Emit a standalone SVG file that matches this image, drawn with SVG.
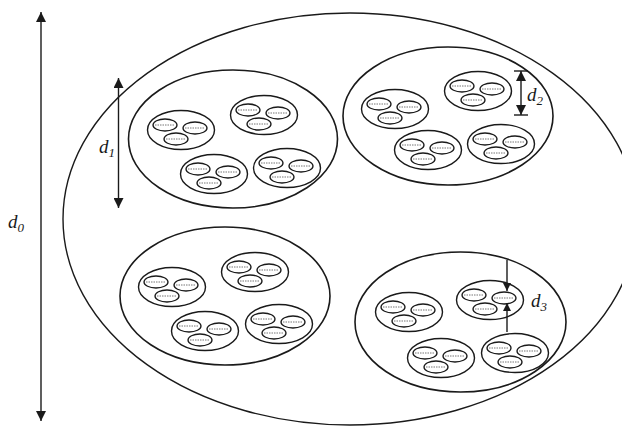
<svg xmlns="http://www.w3.org/2000/svg" xmlns:xlink="http://www.w3.org/1999/xlink" width="622" height="426" viewBox="0 0 622 426">
<style>
  .outer{fill:none;stroke:#1a1a1a;stroke-width:1.4}
  .cl{fill:none;stroke:#1a1a1a;stroke-width:1.6}
  .gr{fill:none;stroke:#1a1a1a;stroke-width:1.4}
  .in{fill:#fff;stroke:#1a1a1a;stroke-width:1.3}
  .dash{stroke:#666;stroke-width:0.9;stroke-dasharray:1.5 1}
  .dim{stroke:#1a1a1a;stroke-width:1.4;fill:none}
  .lbl{font-family:"Liberation Serif","Times New Roman",serif;font-style:italic;font-size:19px;fill:#1a1a1a}
  .sub{font-size:13px}
</style>
<defs>
  <marker id="ah" viewBox="0 0 10 10" refX="10" refY="5" markerUnits="userSpaceOnUse" markerWidth="11" markerHeight="10" orient="auto-start-reverse">
    <path d="M0,0 L10,5 L0,10 z" fill="#1a1a1a"/>
  </marker>
  <marker id="ahs" viewBox="0 0 10 10" refX="10" refY="5" markerUnits="userSpaceOnUse" markerWidth="10" markerHeight="8" orient="auto-start-reverse">
    <path d="M0,0 L10,5 L0,10 z" fill="#1a1a1a"/>
  </marker>
  <g id="inner">
    <ellipse class="in" rx="12" ry="6"/>
    <line class="dash" x1="-10" y1="0" x2="10" y2="0"/>
  </g>
  <g id="triad">
    <ellipse class="gr" rx="33.5" ry="19.5"/>
    <use xlink:href="#inner" x="-16" y="-5"/>
    <use xlink:href="#inner" x="14" y="-2"/>
    <use xlink:href="#inner" x="-5" y="9"/>
  </g>
</defs>

<g id="universe">
  <ellipse class="outer" cx="350" cy="219" rx="287" ry="206"/>
</g>

<g id="cluster-top-left" transform="translate(233,139)">
  <ellipse class="cl" rx="104.5" ry="69"/>
  <use xlink:href="#triad" x="-52" y="-9"/>
  <use xlink:href="#triad" x="31" y="-24"/>
  <use xlink:href="#triad" x="-19" y="35"/>
  <use xlink:href="#triad" x="54" y="29"/>
</g>

<g id="cluster-top-right" transform="translate(448,116)">
  <ellipse class="cl" rx="105" ry="69"/>
  <use xlink:href="#triad" x="-53" y="-7"/>
  <use xlink:href="#triad" x="30" y="-25"/>
  <use xlink:href="#triad" x="-20" y="34"/>
  <use xlink:href="#triad" x="53" y="28"/>
</g>

<g id="cluster-bottom-left" transform="translate(225,296)">
  <ellipse class="cl" rx="105" ry="69"/>
  <use xlink:href="#triad" x="-53" y="-9"/>
  <use xlink:href="#triad" x="30" y="-24"/>
  <use xlink:href="#triad" x="-20" y="35"/>
  <use xlink:href="#triad" x="54" y="28"/>
</g>

<g id="cluster-bottom-right" transform="translate(460.5,322)">
  <ellipse class="cl" rx="105.5" ry="70"/>
  <use xlink:href="#triad" x="-51.5" y="-10"/>
  <use xlink:href="#triad" x="29.5" y="-22"/>
  <use xlink:href="#triad" x="-19.5" y="36"/>
  <use xlink:href="#triad" x="54.5" y="31"/>
</g>

<g id="dimensions">
  <line class="dim" x1="41" y1="12" x2="41" y2="421" marker-start="url(#ah)" marker-end="url(#ah)"/>
  <line class="dim" x1="118.5" y1="78" x2="118.5" y2="208" marker-start="url(#ah)" marker-end="url(#ah)"/>
  <line class="dim" x1="521" y1="71" x2="521" y2="115" marker-start="url(#ah)" marker-end="url(#ah)"/>
  <line class="dim" x1="514" y1="71" x2="528" y2="71"/>
  <line class="dim" x1="514" y1="115" x2="528" y2="115"/>
  <line class="dim" x1="507" y1="260" x2="507" y2="291" marker-end="url(#ahs)"/>
  <line class="dim" x1="507" y1="332" x2="507" y2="303" marker-end="url(#ahs)"/>
</g>

<g id="labels">
  <text class="lbl" x="8" y="228">d<tspan class="sub" dy="4">0</tspan></text>
  <text class="lbl" x="99" y="153">d<tspan class="sub" dy="4">1</tspan></text>
  <text class="lbl" x="527" y="101">d<tspan class="sub" dy="4">2</tspan></text>
  <text class="lbl" x="531" y="307">d<tspan class="sub" dy="4">3</tspan></text>
</g>
</svg>
